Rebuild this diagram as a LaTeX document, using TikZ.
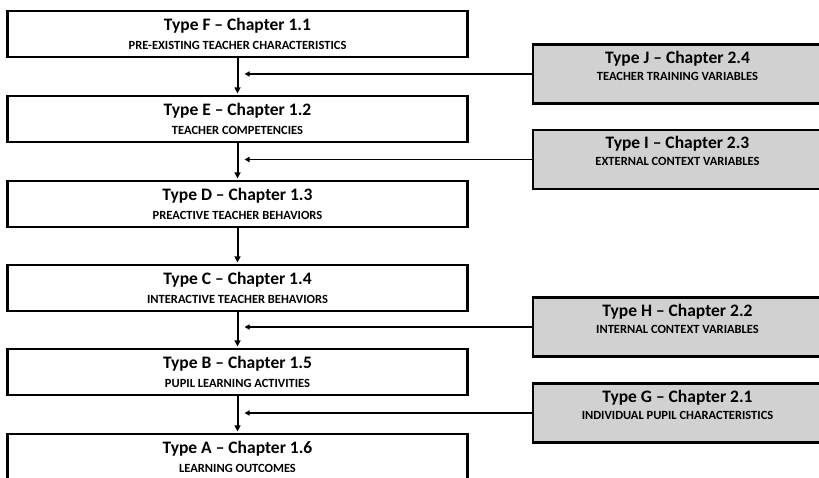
\documentclass[tikz,border=0pt]{standalone}
\usepackage{fontspec}
\setmainfont{Carlito}
\usetikzlibrary{arrows.meta}

\tikzset{
  typebox/.style={draw, line width=2.8pt, fill=white, inner sep=0pt,
    minimum width=460pt, minimum height=46pt, align=center, text depth=0pt,
    font=\bfseries\fontsize{17.5}{21}\selectfont},
  varbox/.style={typebox, fill=black!18, minimum width=289pt,
    minimum height=59pt, text depth=17pt},
  flow/.style={-{Triangle[width=6pt,length=6pt]}, line width=2pt, shorten >=1.2pt},
  feed/.style={-{Triangle[width=5pt,length=5pt]}, line width=1.3pt}
}
\newcommand{\subline}[1]{{\fontsize{12.5}{14}\selectfont #1}}

\begin{document}
\begin{tikzpicture}[x=1pt, y=-1pt]
\useasboundingbox (0,0) rectangle (819,478);
\clip (0,0) rectangle (819,478);

% chain of teacher / pupil types on the left
\path
(237.5,34) node[typebox] (F) {Type F – Chapter 1.1\\[-2pt]\subline{PRE-EXISTING TEACHER CHARACTERISTICS}}
(237.5,119) node[typebox] (E) {Type E – Chapter 1.2\\[-2pt]\subline{TEACHER COMPETENCIES}}
(237.5,204) node[typebox] (D) {Type D – Chapter 1.3\\[-2pt]\subline{PREACTIVE TEACHER BEHAVIORS}}
(237.5,288) node[typebox] (C) {Type C – Chapter 1.4\\[-2pt]\subline{INTERACTIVE TEACHER BEHAVIORS}}
(237.5,372) node[typebox] (B) {Type B – Chapter 1.5\\[-2pt]\subline{PUPIL LEARNING ACTIVITIES}}
(237.5,457) node[typebox] (A) {Type A – Chapter 1.6\\[-2pt]\subline{LEARNING OUTCOMES}};

% context variables on the right
\path
(677.5,74) node[varbox] (J) {Type J – Chapter 2.4\\[-4pt]\subline{TEACHER TRAINING VARIABLES}}
(677.5,159.5) node[varbox] (I) {Type I – Chapter 2.3\\[-4pt]\subline{EXTERNAL CONTEXT VARIABLES}}
(677.5,327) node[varbox] (H) {Type H – Chapter 2.2\\[-4pt]\subline{INTERNAL CONTEXT VARIABLES}}
(677.5,413) node[varbox] (G) {Type G – Chapter 2.1\\[-4pt]\subline{INDIVIDUAL PUPIL CHARACTERISTICS}};

%% arrows down the chain
\foreach \a/\b in {F/E, E/D, D/C, C/B, B/A}
  \draw[flow] (\a.south) -- (\b.north);

%% arrows from the right hand boxes
\foreach \v in {J, I, H, G}
  \draw[feed] (\v.west) -- ([xshift=7pt]\v.west -| F.south);

\end{tikzpicture}
\end{document}
